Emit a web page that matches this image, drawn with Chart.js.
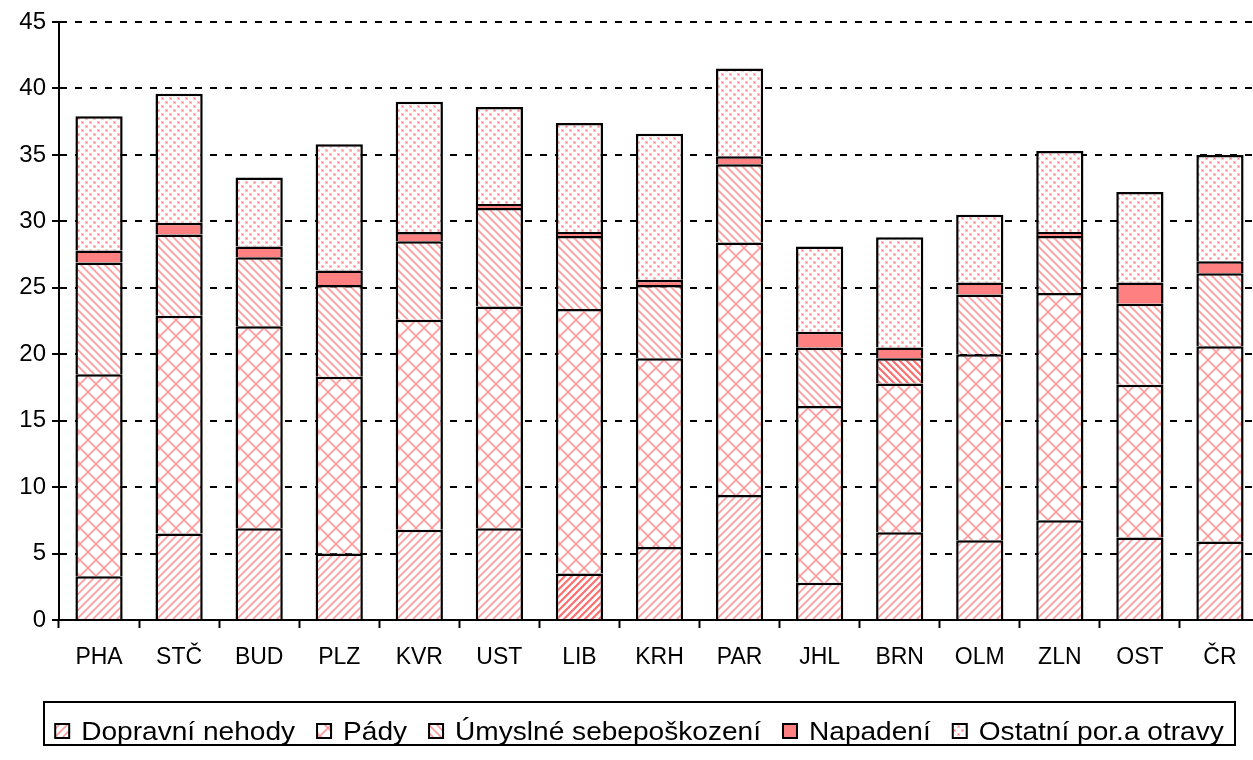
<!DOCTYPE html>
<html>
<head>
<meta charset="utf-8">
<title>Úrazy podle krajů</title>
<script src="https://cdn.jsdelivr.net/npm/chart.js@4.4.0/dist/chart.umd.min.js"></script>
<style>
  html, body { margin: 0; padding: 0; background: #fff; overflow: hidden; }
  #obal { width: 1262px; height: 760px; }
</style>
</head>
<body>
<div id="obal"><canvas id="graf" width="1262" height="760"></canvas></div>
<script>
// Kraje (kategorie osy x)
const kraje = ['PHA', 'STČ', 'BUD', 'PLZ', 'KVR', 'UST', 'LIB', 'KRH', 'PAR', 'JHL', 'BRN', 'OLM', 'ZLN', 'OST', 'ČR'];

// Hodnoty jednotlivých příčin
const dopravniNehody = [3.3, 6.5, 6.9, 5.0, 6.8, 6.9, 3.5, 5.5, 9.4, 2.8, 6.6, 6.0, 7.5, 6.2, 5.9];
const pady           = [15.2, 16.4, 15.2, 13.3, 15.8, 16.7, 19.9, 14.2, 19.0, 13.3, 11.2, 14.0, 17.1, 11.5, 14.7];
const sebeposkozeni  = [8.4, 6.1, 5.2, 6.9, 5.9, 7.4, 5.5, 5.5, 5.9, 4.4, 1.9, 4.5, 4.3, 6.1, 5.5];
const napadeni       = [0.9, 0.9, 0.8, 1.1, 0.7, 0.3, 0.3, 0.4, 0.6, 1.2, 0.8, 0.9, 0.3, 1.6, 0.9];
const ostatni        = [10.1, 9.7, 5.2, 9.5, 9.8, 7.3, 8.2, 11.0, 6.6, 6.4, 8.3, 5.1, 6.1, 6.8, 8.0];

// Osa y
const osaYMax = 45;
const osaYKrok = 5;

const PISMO = '"Liberation Sans", Arial, sans-serif';
const RUZOVA = 'rgba(255, 128, 128, 0.8)';

// Pomocná funkce pro vytvoření vzorku výplně
function vzorek(velikost, kresli) {
    const c = document.createElement('canvas');
    c.width = velikost;
    c.height = velikost;
    const g = c.getContext('2d');
    g.fillStyle = '#fff';
    g.fillRect(0, 0, velikost, velikost);
    kresli(g, velikost);
    return document.getElementById('graf').getContext('2d').createPattern(c, 'repeat');
}

// Šrafy "/"
function srafaDoprava(barva, sirka, s) {
    return vzorek(s, (g, n) => {
        g.strokeStyle = barva;
        g.lineWidth = sirka;
        g.beginPath();
        g.moveTo(-1, n + 1); g.lineTo(n + 1, -1);
        g.moveTo(-2, 2); g.lineTo(2, -2);
        g.moveTo(n - 2, n + 2); g.lineTo(n + 2, n - 2);
        g.stroke();
    });
}

// Šrafy "\"
function srafaDoleva(barva, sirka, s) {
    return vzorek(s, (g, n) => {
        g.strokeStyle = barva;
        g.lineWidth = sirka;
        g.beginPath();
        g.moveTo(-1, -1); g.lineTo(n + 1, n + 1);
        g.moveTo(n - 2, -2); g.lineTo(n + 2, 2);
        g.moveTo(-2, n - 2); g.lineTo(2, n + 2);
        g.stroke();
    });
}

const vzDopravni = srafaDoprava(RUZOVA, 1.6, 8);
const vzDopravniHusta = srafaDoprava('rgba(255, 110, 110, 1)', 2.2, 7);
const vzSebe = srafaDoleva(RUZOVA, 1.6, 8);
const vzSebeHusta = srafaDoleva('rgba(255, 110, 110, 1)', 2.2, 7);

const vzPady = vzorek(16, (g, n) => {
    g.strokeStyle = RUZOVA;
    g.lineWidth = 1.6;
    g.beginPath();
    g.moveTo(0, 0); g.lineTo(n, n);
    g.moveTo(n, 0); g.lineTo(0, n);
    g.stroke();
});

const vzOstatni = vzorek(8, (g) => {
    g.fillStyle = 'rgba(255, 150, 150, 0.55)';
    g.fillRect(1, 1, 3, 3);
    g.fillRect(5, 5, 3, 3);
    g.fillStyle = 'rgba(255, 110, 110, 1)';
    g.fillRect(2, 2, 1, 1);
    g.fillRect(6, 6, 1, 1);
});

// LIB a BRN mají v původním grafu jinak vyplněný jeden dílek
const barvyDopravni = kraje.map(k => k === 'LIB' ? vzDopravniHusta : vzDopravni);
const barvySebe = kraje.map(k => k === 'BRN' ? vzSebeHusta : vzSebe);

function sada(label, data, vypln, vyplnLegenda) {
    return {
        label: label,
        data: data,
        backgroundColor: vypln,
        legendaVypln: vyplnLegenda,
        borderColor: '#000',
        borderWidth: 2.5,
        barPercentage: 0.59,
        categoryPercentage: 1.0,
    };
}

const data = {
    labels: kraje,
    datasets: [
        sada('Dopravní nehody', dopravniNehody, barvyDopravni, vzDopravni),
        sada('Pády', pady, vzPady, vzPady),
        sada('Úmyslné sebepoškození', sebeposkozeni, barvySebe, vzSebe),
        sada('Napadení', napadeni, '#FF8080', '#FF8080'),
        sada('Ostatní por.a otravy', ostatni, vzOstatni, vzOstatni),
    ],
};

// Legenda v rámečku pod grafem
const legendaRamecek = {
    id: 'legendaRamecek',
    afterDraw(chart) {
        const ctx = chart.ctx;
        const r = { x: 44, y: 702, w: 1191, h: 43 };
        const roztazeni = 1.08;
        ctx.save();
        ctx.lineWidth = 2;
        ctx.strokeStyle = '#000';
        ctx.strokeRect(r.x, r.y, r.w, r.h);

        ctx.font = '26px ' + PISMO;
        ctx.textBaseline = 'alphabetic';
        const box = 14, mezeraBox = 12, mezera = 22;
        const polozky = chart.data.datasets.map(ds => ({
            text: ds.label,
            vypln: ds.legendaVypln,
            w: ctx.measureText(ds.label).width * roztazeni,
        }));
        const celkem = polozky.reduce((s, p) => s + box + mezeraBox + p.w, 0) + mezera * (polozky.length - 1);
        let x = r.x + (r.w - celkem) / 2;
        polozky.forEach(p => {
            ctx.fillStyle = p.vypln;
            ctx.fillRect(x, 724, box, box);
            ctx.lineWidth = 2;
            ctx.strokeRect(x, 724, box, box);
            ctx.fillStyle = '#000';
            ctx.save();
            ctx.translate(x + box + mezeraBox, 740);
            ctx.scale(roztazeni, 1);
            ctx.fillText(p.text, 0, 0);
            ctx.restore();
            x += box + mezeraBox + p.w + mezera;
        });
        ctx.restore();
    }
};

const config = {
    type: 'bar',
    data: data,
    options: {
        responsive: false,
        animation: false,
        devicePixelRatio: 1,
        layout: { padding: { top: 22, left: 0, right: 2, bottom: 0 } },
        plugins: {
            legend: { display: false },
            tooltip: { enabled: false },
        },
        scales: {
            x: {
                stacked: true,
                offset: true,
                grid: {
                    offset: true,
                    drawOnChartArea: false,
                    drawTicks: true,
                    tickLength: 8,
                    tickColor: '#000',
                    tickWidth: 2,
                },
                border: { display: true, color: '#000', width: 2 },
                ticks: {
                    color: '#000',
                    font: { family: PISMO, size: 23 },
                    padding: 16,
                    maxRotation: 0,
                },
                afterFit(scale) { scale.height = 140; },
            },
            y: {
                stacked: true,
                min: 0,
                max: osaYMax,
                grid: {
                    color: '#000',
                    lineWidth: 2,
                    tickBorderDash: [],
                    drawTicks: true,
                    tickLength: 7,
                    tickColor: '#000',
                    tickWidth: 2,
                },
                border: { display: true, color: '#000', width: 2, dash: [7, 8] },
                ticks: {
                    stepSize: osaYKrok,
                    color: '#000',
                    font: { family: PISMO, size: 24 },
                    padding: 6,
                },
                afterFit(scale) { scale.width = 59; },
            },
        },
    },
    plugins: [legendaRamecek],
};

new Chart(document.getElementById('graf').getContext('2d'), config);
</script>
</body>
</html>
